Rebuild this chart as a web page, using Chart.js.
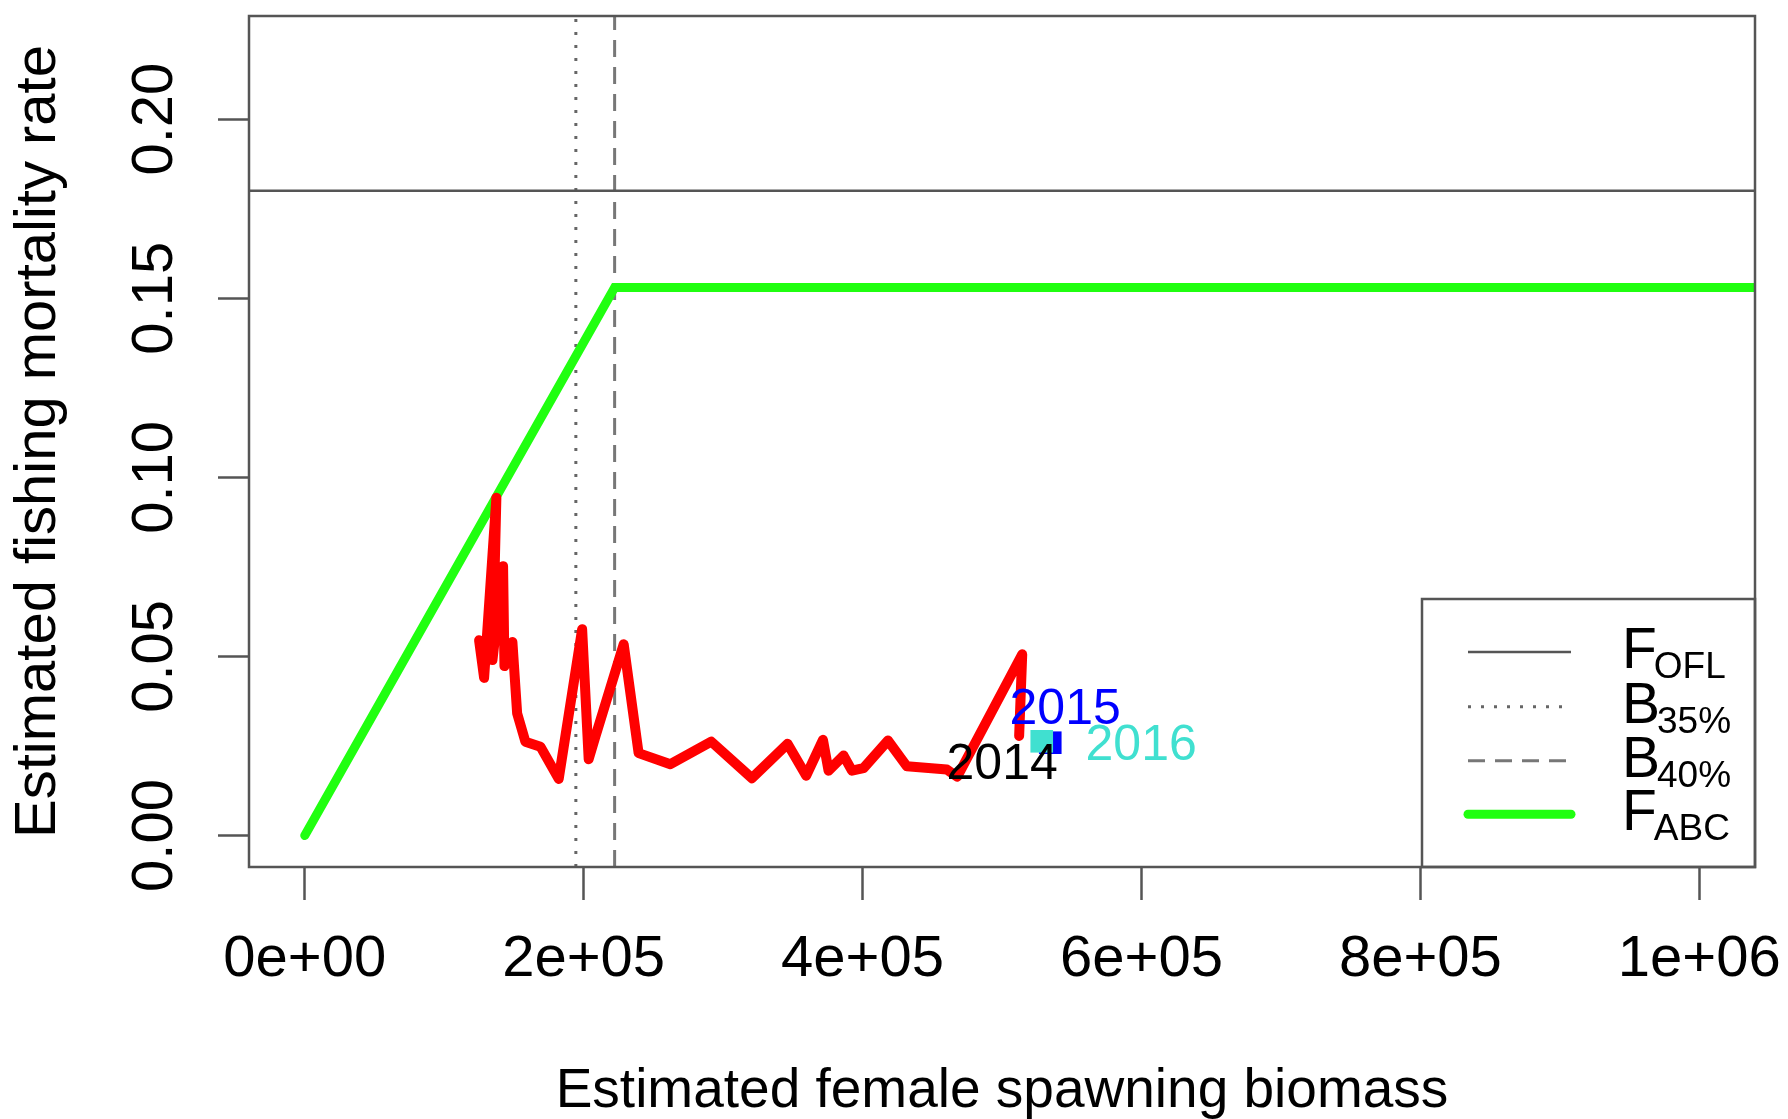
<!DOCTYPE html>
<html>
<head>
<meta charset="utf-8">
<script src="https://cdn.jsdelivr.net/npm/chart.js@4.4.0/dist/chart.umd.min.js"></script>
<style>
  html, body { margin: 0; padding: 0; background: #fff; }
</style>
</head>
<body>
<canvas id="chart" width="1788" height="1119"></canvas>
<script>
const FONT = '"Liberation Sans", Arial, Helvetica, sans-serif';

// reference points
const fOFL = 0.18;
const fABC = 0.153;
const b35 = 194400;
const b40 = 222200;

const xTicks = [0, 200000, 400000, 600000, 800000, 1000000];
const xTickLabels = ['0e+00', '2e+05', '4e+05', '6e+05', '8e+05', '1e+06'];
const yTicks = [0, 0.05, 0.10, 0.15, 0.20];
const yTickLabels = ['0.00', '0.05', '0.10', '0.15', '0.20'];
const xLimits = [-40000, 1040000];
const yLimits = [-0.0088, 0.2288];

// control rule: F_ABC ramps to B40 then flat
const abcX = [0, b40, 1100000];
const abcY = [0, fABC, fABC];

// estimated trajectory (spawning biomass, fishing mortality)
const ssb = [125000, 128600, 137400, 134600, 142200, 143200, 148900, 152300, 158200, 169000,
             182100, 198900, 203600, 208400, 228700, 239400, 262200, 291500, 320700, 346200,
             359600, 371600, 375600, 386400, 392400, 400700, 418200, 431800, 460500, 467900,
             514500, 512300];
const fRate = [0.0545, 0.0440, 0.0943, 0.0490, 0.0752, 0.0473, 0.0540, 0.0341, 0.0262, 0.0248,
               0.0158, 0.0576, 0.0213, 0.0276, 0.0534, 0.0230, 0.0199, 0.0262, 0.0160, 0.0256,
               0.0167, 0.0267, 0.0181, 0.0223, 0.0181, 0.0188, 0.0265, 0.0193, 0.0184, 0.0164,
               0.0506, 0.0278];

// projected years
const projX = [534600, 528500];
const projY = [0.0259, 0.0263];
const projColors = ['#0000ff', '#40e0d0'];

const yearLabels = ['2014', '2015', '2016'];
const yearLabelX = [500100, 545300, 599800];
const yearLabelY = [0.0195, 0.0351, 0.0248];
const yearColors = ['#000000', '#0000ff', '#40e0d0'];

const legendMain = ['F', 'B', 'B', 'F'];
const legendSub = ['OFL', '35%', '40%', 'ABC'];

function points(xs, ys) {
    return xs.map((x, i) => ({x: x, y: ys[i]}));
}

const styles = {
    ofl: {borderColor: '#555555', borderWidth: 2.5, borderDash: []},
    b35: {borderColor: '#666666', borderWidth: 3, borderDash: [3, 10]},
    b40: {borderColor: '#777777', borderWidth: 3, borderDash: [17, 10]},
    abc: {borderColor: '#20ff10', borderWidth: 9, borderDash: []}
};
const legendStyles = [styles.ofl, styles.b35, styles.b40, styles.abc];

/**
 * Box, rotated y labels, year labels and legend (R-style).
 */
const decorations = {
    id: 'decorations',
    afterDatasetsDraw(chart) {
        const ctx = chart.ctx;
        const area = chart.chartArea;
        const xs = chart.scales.x;
        const ys = chart.scales.y;

        ctx.save();
        ctx.textAlign = 'center';
        ctx.textBaseline = 'middle';

        ctx.font = `58px ${FONT}`;
        ctx.fillStyle = '#000';
        yTicks.forEach((v, i) => {
            ctx.save();
            ctx.translate(area.left - 93, ys.getPixelForValue(v));
            ctx.rotate(-Math.PI / 2);
            ctx.fillText(yTickLabels[i], 0, 0);
            ctx.restore();
        });

        ctx.font = `50px ${FONT}`;
        yearLabels.forEach((t, i) => {
            ctx.fillStyle = yearColors[i];
            ctx.fillText(t, xs.getPixelForValue(yearLabelX[i]), ys.getPixelForValue(yearLabelY[i]));
        });

        // legend, bottom right
        const lx = area.right - 333;
        const ly = area.bottom - 268;
        ctx.fillStyle = '#fff';
        ctx.fillRect(lx, ly, area.right - lx, area.bottom - ly);
        ctx.strokeStyle = '#555';
        ctx.lineWidth = 2.5;
        ctx.strokeRect(lx, ly, area.right - lx, area.bottom - ly);

        const rowY = [215, 160.3, 106.3, 52.7];
        ctx.textAlign = 'left';
        ctx.textBaseline = 'alphabetic';
        legendMain.forEach((m, i) => {
            const y = area.bottom - rowY[i];
            const st = legendStyles[i];
            ctx.beginPath();
            ctx.strokeStyle = st.borderColor;
            ctx.lineWidth = st.borderWidth;
            ctx.setLineDash(st.borderDash);
            ctx.lineCap = st.borderWidth > 5 ? 'round' : 'butt';
            ctx.moveTo(area.right - 287, y);
            ctx.lineTo(area.right - 184, y);
            ctx.stroke();
            ctx.setLineDash([]);

            const tx = area.right - 133;
            ctx.fillStyle = '#000';
            ctx.font = `57px ${FONT}`;
            ctx.fillText(m, tx, y + 16);
            const w = ctx.measureText(m).width;
            ctx.font = `37px ${FONT}`;
            ctx.fillText(legendSub[i], tx + w - 3, y + 26);
        });

        ctx.strokeStyle = '#555';
        ctx.lineWidth = 2.5;
        ctx.strokeRect(area.left, area.top, area.right - area.left, area.bottom - area.top);
        ctx.restore();
    }
};

const datasets = [
    {label: '2016', data: [{x: projX[1], y: projY[1]}], showLine: false, pointStyle: 'rect',
     pointRadius: 16, backgroundColor: projColors[1], borderWidth: 0},
    {label: '2015', data: [{x: projX[0], y: projY[0]}], showLine: false, pointStyle: 'rect',
     pointRadius: 16, backgroundColor: projColors[0], borderWidth: 0},
    {label: 'trajectory', data: points(ssb, fRate), showLine: true, pointRadius: 0,
     borderColor: '#ff0000', borderWidth: 10, borderJoinStyle: 'round', borderCapStyle: 'round'},
    Object.assign({label: 'FABC', data: points(abcX, abcY), showLine: true, pointRadius: 0,
     borderCapStyle: 'round'}, styles.abc),
    Object.assign({label: 'FOFL', data: points(xLimits, [fOFL, fOFL]), showLine: true, pointRadius: 0}, styles.ofl),
    Object.assign({label: 'B35', data: points([b35, b35], yLimits), showLine: true, pointRadius: 0}, styles.b35),
    Object.assign({label: 'B40', data: points([b40, b40], yLimits), showLine: true, pointRadius: 0}, styles.b40)
];

new Chart(document.getElementById('chart'), {
    type: 'scatter',
    data: {datasets: datasets},
    options: {
        responsive: false,
        animation: false,
        devicePixelRatio: 1,
        layout: {padding: {left: 0, top: 13, right: 33, bottom: 0}},
        plugins: {legend: {display: false}, tooltip: {enabled: false}},
        scales: {
            x: {
                type: 'linear',
                min: xLimits[0],
                max: xLimits[1],
                afterBuildTicks: s => { s.ticks = xTicks.map(v => ({value: v})); },
                afterFit: s => { s.height = 252; s.paddingLeft = 0; s.paddingRight = 0; },
                grid: {drawOnChartArea: false, drawTicks: true, tickLength: 33, tickColor: '#555', tickWidth: 2.5},
                border: {display: false},
                ticks: {
                    autoSkip: false, maxRotation: 0, padding: 34, color: '#000',
                    font: {family: FONT, size: 58, lineHeight: 0.9},
                    callback: (v, i) => xTickLabels[i]
                },
                title: {display: true, text: 'Estimated female spawning biomass', color: '#000',
                        font: {family: FONT, size: 55, lineHeight: 0.9}, padding: {top: 0, bottom: 2}}
            },
            y: {
                type: 'linear',
                min: yLimits[0],
                max: yLimits[1],
                afterBuildTicks: s => { s.ticks = yTicks.map(v => ({value: v})); },
                afterFit: s => { s.width = 249; s.paddingTop = 0; s.paddingBottom = 0; },
                grid: {drawOnChartArea: false, drawTicks: true, tickLength: 31, tickColor: '#555', tickWidth: 2.5},
                border: {display: false},
                ticks: {display: false},
                title: {display: true, text: 'Estimated fishing mortality rate', color: '#000',
                        font: {family: FONT, size: 58, lineHeight: 0.9}, padding: {top: 13, bottom: 0}}
            }
        }
    },
    plugins: [decorations]
});
</script>
</body>
</html>
